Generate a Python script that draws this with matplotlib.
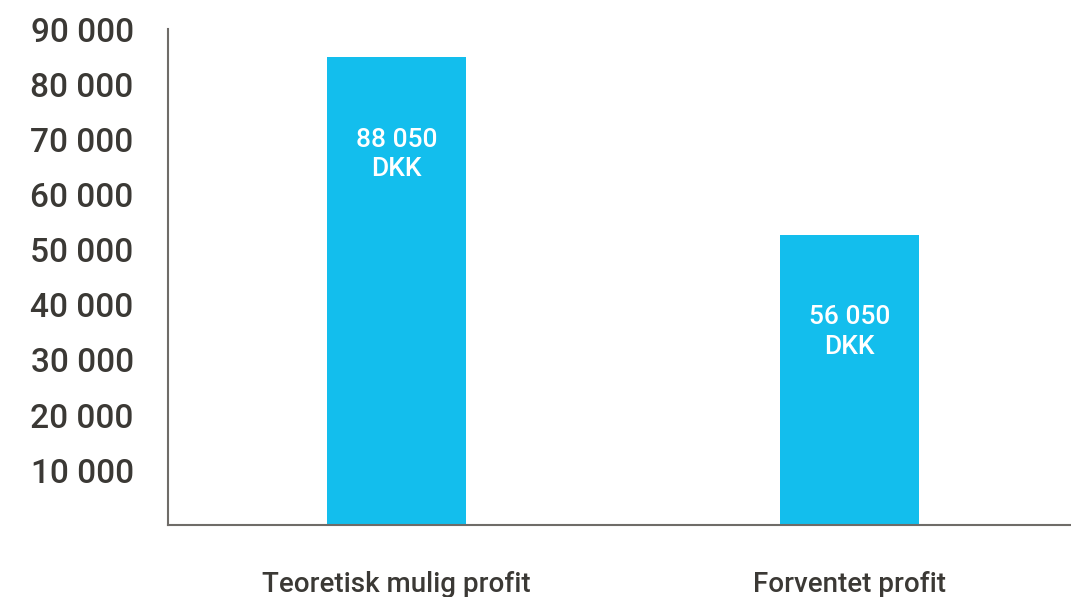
import matplotlib as mpl
import matplotlib.pyplot as plt
import numpy as np

mpl.rcParams['font.family'] = ['Roboto', 'DejaVu Sans']

# data
categories = ['Teoretisk mulig profit', 'Forventet profit']
bar_heights = [84900, 52650]          # heights as drawn on the axis
bar_labels = ['88 050\nDKK', '56 050\nDKK']   # labels as printed on the bars
yticks = [10000, 20000, 30000, 40000, 50000, 60000, 70000, 80000, 90000]

barcolor = '#13BEED'
textcolor = '#3b3935'
axiscolor = '#6f6c68'

fig = plt.figure(figsize=(10.71, 5.97), dpi=100)
ax = fig.add_axes([0.1573, 0.1198, 0.8427, 0.8316])

x = np.arange(len(categories))
bars = ax.bar(x, bar_heights, width=0.307, color=barcolor)

# labels inside the bars, a fixed distance below the top
for b, lab in zip(bars, bar_labels):
    ax.annotate(lab, (b.get_x() + b.get_width() / 2, b.get_height()),
                xytext=(0, -70), textcoords='offset points',
                ha='center', va='center', color='white',
                fontsize=19, fontweight='medium', linespacing=1.3)

ax.set_xlim(-0.503, 1.489)
ax.set_ylim(0, 90000)
ax.set_xticks(x)
ax.set_xticklabels(categories)
ax.set_yticks(yticks)
ax.set_yticklabels([f'{v:,}'.replace(',', ' ') for v in yticks])

ax.tick_params(axis='y', length=0, pad=25, labelsize=24, labelcolor=textcolor)
ax.tick_params(axis='x', length=0, pad=33, labelsize=20, labelcolor=textcolor)
for lab in ax.get_yticklabels() + ax.get_xticklabels():
    lab.set_fontweight('medium')

for side in ['top', 'right']:
    ax.spines[side].set_visible(False)
for side in ['left', 'bottom']:
    ax.spines[side].set_color(axiscolor)
    ax.spines[side].set_linewidth(1.5)

fig.savefig('out.png', dpi=100)
